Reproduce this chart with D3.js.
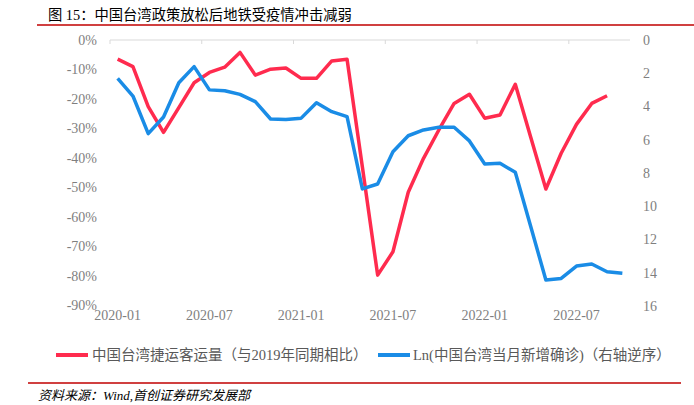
<!DOCTYPE html>
<html><head><meta charset="utf-8">
<script src="https://cdn.jsdelivr.net/npm/d3@7"></script>
<style>
html,body{margin:0;padding:0;background:#fff;}
svg{display:block;}
</style></head>
<body>
<svg id="c" width="694" height="405"></svg>
<script>
// ---- data ----
const months = [];
for (let y = 2020; y <= 2022; y++) for (let m = 1; m <= 12; m++) {
  if (y === 2022 && m > 10) break;
  months.push(y + "-" + String(m).padStart(2, "0"));
}
const tickLabels = ["2020-01","2020-07","2021-01","2021-07","2022-01","2022-07"];
const leftTicks = [0,-10,-20,-30,-40,-50,-60,-70,-80,-90];
const rightTicks = [0,2,4,6,8,10,12,14,16];
// 中国台湾捷运客运量（与2019年同期相比）, %
const metroYoY = [-6.5,-9.0,-22.6,-31.3,-22.9,-14.5,-11.0,-9.2,-4.2,-11.9,-9.9,-9.5,
  -13.0,-13.0,-7.1,-6.5,-43.0,-79.7,-71.8,-51.6,-40.1,-30.5,-21.5,-18.4,-26.5,-25.4,
  -15.0,-32.8,-50.5,-38.4,-28.6,-21.5,-18.9];
// Ln(中国台湾当月新增确诊)
const lnCases = [2.31,3.37,5.63,4.63,2.57,1.60,3.00,3.05,3.27,3.71,4.75,4.78,
  4.70,3.77,4.31,4.61,8.96,8.66,6.72,5.76,5.41,5.25,5.25,6.07,7.46,7.42,
  7.96,11.19,14.44,14.34,13.60,13.47,13.94,14.03];
const titleText = "图 15：中国台湾政策放松后地铁受疫情冲击减弱";
const legendRed = "中国台湾捷运客运量（与2019年同期相比）";
const legendBlue = "Ln(中国台湾当月新增确诊)（右轴逆序）";
const sourceText = "资料来源：Wind,首创证券研究发展部";

const RED = "#FF2B4E", BLUE = "#1A8CE6";
const CJK = "'Noto Sans CJK SC'";
const SERIF = "'Liberation Serif', 'Times New Roman', serif";
const svg = d3.select("#c");

// split text into runs: latin/digits in serif, others CJK
function richText(sel, str) {
  const runs = str.match(/[A-Za-z0-9(),. ]+|[^A-Za-z0-9(),. ]+/g);
  runs.forEach(r => {
    sel.append("tspan").attr("font-family", /[A-Za-z0-9(),. ]/.test(r[0]) ? SERIF : CJK).text(r);
  });
}

const x = d3.scaleBand().domain(months).range([110, 630]).padding(0);
const yL = d3.scaleLinear().domain([-90, 0]).range([305.5, 40]);
const yR = d3.scaleLinear().domain([0, 16]).range([40, 306]);
const cx = d => x(d) + x.bandwidth() / 2;

// title
const tt = svg.append("text").attr("x", 48).attr("y", 20)
  .attr("font-size", 14.3).attr("fill", "#000").attr("xml:space", "preserve");
richText(tt, titleText);
svg.append("line").attr("x1", 37).attr("x2", 694).attr("y1", 25).attr("y2", 25)
  .attr("stroke", "#C00000").attr("stroke-width", 1.5);

// top category axis line (at 0%) with ticks at band edges
svg.append("line").attr("x1", 110).attr("x2", 630).attr("y1", yL(0)).attr("y2", yL(0))
  .attr("stroke", "#d9d9d9").attr("stroke-width", 1);
svg.selectAll(".tk").data(tickLabels).join("line")
  .attr("x1", d => x(d)).attr("x2", d => x(d))
  .attr("y1", yL(0)).attr("y2", yL(0) + 4)
  .attr("stroke", "#d9d9d9").attr("stroke-width", 1);

// bottom labels
const axB = svg.append("g").attr("transform", "translate(0,306)")
  .call(d3.axisBottom(x).tickValues(tickLabels).tickSize(0).tickPadding(4));
axB.select(".domain").remove();

const axL = svg.append("g").attr("transform", "translate(110,0)")
  .call(d3.axisLeft(yL).tickValues(leftTicks).tickSize(0).tickPadding(13).tickFormat(d => d + "%"));
axL.select(".domain").remove();

const axR = svg.append("g").attr("transform", "translate(630,0)")
  .call(d3.axisRight(yR).tickValues(rightTicks).tickSize(0).tickPadding(13));
axR.select(".domain").remove();

svg.selectAll(".tick text").attr("font-family", SERIF)
  .attr("font-size", 14).attr("fill", "#7f7f7f");

// lines
const lineL = d3.line().x((d, i) => cx(months[i])).y(d => yL(d));
const lineR = d3.line().x((d, i) => cx(months[i])).y(d => yR(d));
svg.append("path").datum(metroYoY).attr("d", lineL).attr("fill", "none")
  .attr("stroke", RED).attr("stroke-width", 3.5).attr("stroke-linejoin", "round");
svg.append("path").datum(lnCases).attr("d", lineR).attr("fill", "none")
  .attr("stroke", BLUE).attr("stroke-width", 3.5).attr("stroke-linejoin", "round");

// legend
const lg = svg.append("g").attr("font-size", 14.5).attr("fill", "#595959");
lg.append("line").attr("x1", 56).attr("x2", 88).attr("y1", 355).attr("y2", 355)
  .attr("stroke", RED).attr("stroke-width", 4);
richText(lg.append("text").attr("x", 92).attr("y", 360), legendRed);
lg.append("line").attr("x1", 378).attr("x2", 410).attr("y1", 355).attr("y2", 355)
  .attr("stroke", BLUE).attr("stroke-width", 4);
richText(lg.append("text").attr("x", 413).attr("y", 360), legendBlue);

// source
svg.append("line").attr("x1", 28).attr("x2", 681).attr("y1", 383).attr("y2", 383)
  .attr("stroke", "#C00000").attr("stroke-width", 1.5);
const st = svg.append("text").attr("x", 38).attr("y", 400)
  .attr("font-size", 13).attr("font-style", "italic").attr("fill", "#000");
richText(st, sourceText);
</script>
</body></html>
